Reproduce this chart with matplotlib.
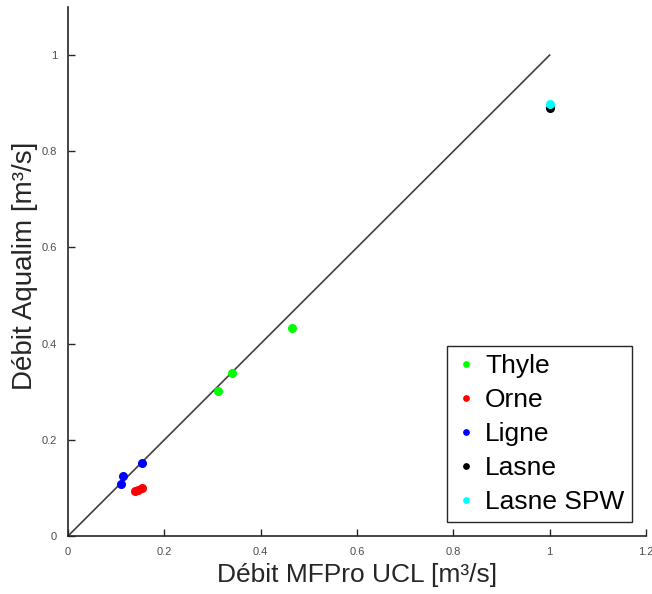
import matplotlib.pyplot as plt

plt.rcParams['font.family'] = ['Liberation Sans', 'DejaVu Sans']

# Débits par station : MFPro UCL (x) contre Aqualim (y)
stations = ['Thyle', 'Orne', 'Ligne', 'Lasne', 'Lasne SPW']
couleurs = ['#00ff00', '#ff0000', '#0000ff', '#000000', '#00ffff']
debit_mfpro = [
    [0.312, 0.341, 0.465],
    [0.139, 0.146, 0.153],
    [0.111, 0.115, 0.154],
    [1.001],
    [1.001],
]
debit_aqualim = [
    [0.302, 0.339, 0.432],
    [0.094, 0.095, 0.100],
    [0.109, 0.124, 0.152],
    [0.889],
    [0.899],
]

fig = plt.figure(figsize=(6.52, 5.94), dpi=100)
ax = fig.add_axes([0.1043, 0.0976, 0.8865, 0.8906])

# droite 1:1
ax.plot([0, 1], [0, 1], color='#404040', lw=1.2, zorder=1)

for nom, c, x, y in zip(stations, couleurs, debit_mfpro, debit_aqualim):
    ax.plot(x, y, 'o', color=c, ms=5.5, mec=c, label=nom, zorder=2)

ax.set_xlim(0, 1.2)
ax.set_ylim(0, 1.1)
ax.set_xticks([0, 0.2, 0.4, 0.6, 0.8, 1, 1.2])
ax.set_xticklabels(['0', '0.2', '0.4', '0.6', '0.8', '1', '1.2'])
ax.set_yticks([0, 0.2, 0.4, 0.6, 0.8, 1])
ax.set_yticklabels(['0', '0.2', '0.4', '0.6', '0.8', '1'])
ax.tick_params(direction='in', length=5, width=1, colors='#262626',
               labelsize=8, pad=8, labelcolor='#4d4d4d')
for s in ['top', 'right']:
    ax.spines[s].set_visible(False)
for s in ['left', 'bottom']:
    ax.spines[s].set_color('#262626')
    ax.spines[s].set_linewidth(1.2)

ax.set_xlabel('Débit MFPro UCL [m³/s]', fontsize=19, color='#262626', labelpad=4)
ax.set_ylabel('Débit Aqualim [m³/s]', fontsize=20, color='#262626')
ax.yaxis.set_label_coords(-0.052, 0.51)

leg = ax.legend(loc='lower right', bbox_to_anchor=(0.976, 0.026), fontsize=19,
                markerscale=0.7, handlelength=0.85, handletextpad=0.3,
                labelspacing=0.38, borderpad=0.3, borderaxespad=0,
                fancybox=False, framealpha=1, edgecolor='#262626')
leg.get_frame().set_linewidth(1.0)

fig.savefig('out.png', dpi=100)
